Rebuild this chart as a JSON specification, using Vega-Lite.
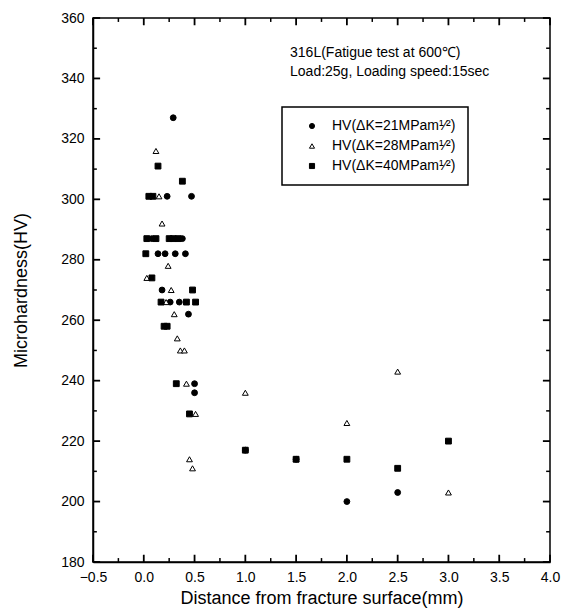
{
  "$schema": "https://vega.github.io/schema/vega-lite/v6.json",
  "autosize": "none",
  "padding": {"left": 93, "top": 18, "right": 11, "bottom": 52},
  "width": 457,
  "height": 544,
  "background": "white",
  "config": {
    "font": "Liberation Sans",
    "view": {"stroke": "black", "strokeWidth": 1.5},
    "axis": {
      "grid": false,
      "domainColor": "black",
      "domainWidth": 1.5,
      "labelFont": "Liberation Sans",
      "labelFontSize": 14,
      "labelColor": "black",
      "labelFlush": false,
      "labelOverlap": false,
      "titleFont": "Liberation Sans",
      "titleFontSize": 18,
      "titleFontWeight": "normal",
      "titleColor": "black"
    },
    "legend": {
      "strokeColor": "black",
      "strokeWidth": 1.5,
      "padding": 12,
      "symbolOffset": 11,
      "labelFont": "Liberation Sans",
      "labelFontSize": 14,
      "labelColor": "black",
      "labelOffset": 13,
      "symbolStrokeWidth": 1,
      "rowPadding": 6,
      "labelLimit": 300
    }
  },
  "datasets": {
    "pts": [
      {"x": 0.29, "y": 327, "s": "HV(ΔK=21MPam¹⁄²)"},
      {"x": 0.23, "y": 301, "s": "HV(ΔK=21MPam¹⁄²)"},
      {"x": 0.47, "y": 301, "s": "HV(ΔK=21MPam¹⁄²)"},
      {"x": 0.08, "y": 287, "s": "HV(ΔK=21MPam¹⁄²)"},
      {"x": 0.38, "y": 287, "s": "HV(ΔK=21MPam¹⁄²)"},
      {"x": 0.14, "y": 282, "s": "HV(ΔK=21MPam¹⁄²)"},
      {"x": 0.21, "y": 282, "s": "HV(ΔK=21MPam¹⁄²)"},
      {"x": 0.31, "y": 282, "s": "HV(ΔK=21MPam¹⁄²)"},
      {"x": 0.41, "y": 282, "s": "HV(ΔK=21MPam¹⁄²)"},
      {"x": 0.18, "y": 270, "s": "HV(ΔK=21MPam¹⁄²)"},
      {"x": 0.26, "y": 266, "s": "HV(ΔK=21MPam¹⁄²)"},
      {"x": 0.35, "y": 266, "s": "HV(ΔK=21MPam¹⁄²)"},
      {"x": 0.44, "y": 262, "s": "HV(ΔK=21MPam¹⁄²)"},
      {"x": 0.50, "y": 239, "s": "HV(ΔK=21MPam¹⁄²)"},
      {"x": 0.50, "y": 236, "s": "HV(ΔK=21MPam¹⁄²)"},
      {"x": 1.0, "y": 217, "s": "HV(ΔK=21MPam¹⁄²)"},
      {"x": 1.5, "y": 214, "s": "HV(ΔK=21MPam¹⁄²)"},
      {"x": 2.0, "y": 200, "s": "HV(ΔK=21MPam¹⁄²)"},
      {"x": 2.5, "y": 203, "s": "HV(ΔK=21MPam¹⁄²)"},
      {"x": 0.12, "y": 316, "s": "HV(ΔK=28MPam¹⁄²)"},
      {"x": 0.15, "y": 301, "s": "HV(ΔK=28MPam¹⁄²)"},
      {"x": 0.18, "y": 292, "s": "HV(ΔK=28MPam¹⁄²)"},
      {"x": 0.24, "y": 278, "s": "HV(ΔK=28MPam¹⁄²)"},
      {"x": 0.03, "y": 274, "s": "HV(ΔK=28MPam¹⁄²)"},
      {"x": 0.27, "y": 270, "s": "HV(ΔK=28MPam¹⁄²)"},
      {"x": 0.22, "y": 266, "s": "HV(ΔK=28MPam¹⁄²)"},
      {"x": 0.30, "y": 262, "s": "HV(ΔK=28MPam¹⁄²)"},
      {"x": 0.33, "y": 254, "s": "HV(ΔK=28MPam¹⁄²)"},
      {"x": 0.36, "y": 250, "s": "HV(ΔK=28MPam¹⁄²)"},
      {"x": 0.40, "y": 250, "s": "HV(ΔK=28MPam¹⁄²)"},
      {"x": 0.42, "y": 239, "s": "HV(ΔK=28MPam¹⁄²)"},
      {"x": 0.51, "y": 229, "s": "HV(ΔK=28MPam¹⁄²)"},
      {"x": 0.45, "y": 214, "s": "HV(ΔK=28MPam¹⁄²)"},
      {"x": 0.48, "y": 211, "s": "HV(ΔK=28MPam¹⁄²)"},
      {"x": 1.0, "y": 236, "s": "HV(ΔK=28MPam¹⁄²)"},
      {"x": 1.5, "y": 214, "s": "HV(ΔK=28MPam¹⁄²)"},
      {"x": 2.0, "y": 226, "s": "HV(ΔK=28MPam¹⁄²)"},
      {"x": 2.5, "y": 243, "s": "HV(ΔK=28MPam¹⁄²)"},
      {"x": 3.0, "y": 203, "s": "HV(ΔK=28MPam¹⁄²)"},
      {"x": 0.14, "y": 311, "s": "HV(ΔK=40MPam¹⁄²)"},
      {"x": 0.38, "y": 306, "s": "HV(ΔK=40MPam¹⁄²)"},
      {"x": 0.05, "y": 301, "s": "HV(ΔK=40MPam¹⁄²)"},
      {"x": 0.09, "y": 301, "s": "HV(ΔK=40MPam¹⁄²)"},
      {"x": 0.03, "y": 287, "s": "HV(ΔK=40MPam¹⁄²)"},
      {"x": 0.12, "y": 287, "s": "HV(ΔK=40MPam¹⁄²)"},
      {"x": 0.25, "y": 287, "s": "HV(ΔK=40MPam¹⁄²)"},
      {"x": 0.29, "y": 287, "s": "HV(ΔK=40MPam¹⁄²)"},
      {"x": 0.34, "y": 287, "s": "HV(ΔK=40MPam¹⁄²)"},
      {"x": 0.02, "y": 282, "s": "HV(ΔK=40MPam¹⁄²)"},
      {"x": 0.08, "y": 274, "s": "HV(ΔK=40MPam¹⁄²)"},
      {"x": 0.48, "y": 270, "s": "HV(ΔK=40MPam¹⁄²)"},
      {"x": 0.17, "y": 266, "s": "HV(ΔK=40MPam¹⁄²)"},
      {"x": 0.42, "y": 266, "s": "HV(ΔK=40MPam¹⁄²)"},
      {"x": 0.51, "y": 266, "s": "HV(ΔK=40MPam¹⁄²)"},
      {"x": 0.20, "y": 258, "s": "HV(ΔK=40MPam¹⁄²)"},
      {"x": 0.23, "y": 258, "s": "HV(ΔK=40MPam¹⁄²)"},
      {"x": 0.32, "y": 239, "s": "HV(ΔK=40MPam¹⁄²)"},
      {"x": 0.45, "y": 229, "s": "HV(ΔK=40MPam¹⁄²)"},
      {"x": 1.0, "y": 217, "s": "HV(ΔK=40MPam¹⁄²)"},
      {"x": 1.5, "y": 214, "s": "HV(ΔK=40MPam¹⁄²)"},
      {"x": 2.0, "y": 214, "s": "HV(ΔK=40MPam¹⁄²)"},
      {"x": 2.5, "y": 211, "s": "HV(ΔK=40MPam¹⁄²)"},
      {"x": 3.0, "y": 220, "s": "HV(ΔK=40MPam¹⁄²)"}
    ],
    "notes": [
      {"x": 1.44, "y": 348.3, "label": "316L(Fatigue test at 600℃)"},
      {"x": 1.44, "y": 342.2, "label": "Load:25g, Loading speed:15sec"}
    ],
    "xmaj": [{"v": -0.5}, {"v": 0}, {"v": 0.5}, {"v": 1}, {"v": 1.5}, {"v": 2}, {"v": 2.5}, {"v": 3}, {"v": 3.5}, {"v": 4}],
    "xmin": [{"v": -0.25}, {"v": 0.25}, {"v": 0.75}, {"v": 1.25}, {"v": 1.75}, {"v": 2.25}, {"v": 2.75}, {"v": 3.25}, {"v": 3.75}],
    "ymaj": [{"v": 180}, {"v": 200}, {"v": 220}, {"v": 240}, {"v": 260}, {"v": 280}, {"v": 300}, {"v": 320}, {"v": 340}, {"v": 360}],
    "ymin": [{"v": 190}, {"v": 210}, {"v": 230}, {"v": 250}, {"v": 270}, {"v": 290}, {"v": 310}, {"v": 330}, {"v": 350}]
  },
  "resolve": {"axis": {"x": "independent", "y": "independent"}},
  "layer": [
    {
      "data": {"name": "pts"},
      "mark": {"type": "point", "filled": true, "strokeWidth": 1, "size": 34, "opacity": 1},
      "encoding": {
        "x": {
          "field": "x", "type": "quantitative",
          "scale": {"domain": [-0.5, 4.0], "nice": false, "zero": false},
          "axis": {
            "orient": "bottom",
            "title": "Distance from fracture surface(mm)",
            "titlePadding": 5,
            "values": [-0.5,0,0.5,1,1.5,2,2.5,3,3.5,4],
            "format": ".1f",
            "ticks": false,
            "labelPadding": 8
          }
        },
        "y": {
          "field": "y", "type": "quantitative",
          "scale": {"domain": [180, 360], "nice": false, "zero": false},
          "axis": {
            "orient": "left",
            "title": "Microhardness(HV)",
            "titlePadding": 30,
            "values": [180,200,220,240,260,280,300,320,340,360],
            "ticks": false,
            "labelPadding": 9
          }
        },
        "shape": {
          "field": "s", "type": "nominal",
          "scale": {"domain": ["HV(ΔK=21MPam¹⁄²)", "HV(ΔK=28MPam¹⁄²)", "HV(ΔK=40MPam¹⁄²)"], "range": ["circle", "triangle-up", "square"]},
          "legend": {"title": null, "orient": "none", "legendX": 189, "legendY": 89, "symbolSize": 26}
        },
        "fill": {
          "field": "s", "type": "nominal",
          "scale": {"domain": ["HV(ΔK=21MPam¹⁄²)", "HV(ΔK=28MPam¹⁄²)", "HV(ΔK=40MPam¹⁄²)"], "range": ["black", "white", "black"]},
          "legend": {"title": null, "orient": "none", "legendX": 189, "legendY": 89, "symbolSize": 26}
        },
        "stroke": {
          "field": "s", "type": "nominal",
          "scale": {"domain": ["HV(ΔK=21MPam¹⁄²)", "HV(ΔK=28MPam¹⁄²)", "HV(ΔK=40MPam¹⁄²)"], "range": ["black", "black", "black"]},
          "legend": {"title": null, "orient": "none", "legendX": 189, "legendY": 89, "symbolSize": 26}
        }
      }
    },
    {
      "data": {"name": "notes"},
      "mark": {"type": "text", "align": "left", "baseline": "middle", "fontSize": 14, "font": "Liberation Sans", "color": "black"},
      "encoding": {
        "x": {"field": "x", "type": "quantitative", "axis": null},
        "y": {"field": "y", "type": "quantitative", "axis": null},
        "text": {"field": "label", "type": "nominal"}
      }
    },
    {
      "data": {"name": "xmaj"},
      "mark": {"type": "rule", "color": "black", "strokeWidth": 1.8},
      "encoding": {
        "x": {"field": "v", "type": "quantitative", "axis": null},
        "y": {"datum": 180, "type": "quantitative", "axis": null},
        "y2": {"datum": 182.4}
      }
    },
    {
      "data": {"name": "xmaj"},
      "mark": {"type": "rule", "color": "black", "strokeWidth": 1.8},
      "encoding": {
        "x": {"field": "v", "type": "quantitative", "axis": null},
        "y": {"datum": 360, "type": "quantitative", "axis": null},
        "y2": {"datum": 357.6}
      }
    },
    {
      "data": {"name": "xmin"},
      "mark": {"type": "rule", "color": "black", "strokeWidth": 1.5},
      "encoding": {
        "x": {"field": "v", "type": "quantitative", "axis": null},
        "y": {"datum": 180, "type": "quantitative", "axis": null},
        "y2": {"datum": 181.3}
      }
    },
    {
      "data": {"name": "xmin"},
      "mark": {"type": "rule", "color": "black", "strokeWidth": 1.5},
      "encoding": {
        "x": {"field": "v", "type": "quantitative", "axis": null},
        "y": {"datum": 360, "type": "quantitative", "axis": null},
        "y2": {"datum": 358.7}
      }
    },
    {
      "data": {"name": "ymaj"},
      "mark": {"type": "rule", "color": "black", "strokeWidth": 1.8},
      "encoding": {
        "y": {"field": "v", "type": "quantitative", "axis": null},
        "x": {"datum": -0.5, "type": "quantitative", "axis": null},
        "x2": {"datum": -0.43}
      }
    },
    {
      "data": {"name": "ymaj"},
      "mark": {"type": "rule", "color": "black", "strokeWidth": 1.8},
      "encoding": {
        "y": {"field": "v", "type": "quantitative", "axis": null},
        "x": {"datum": 4.0, "type": "quantitative", "axis": null},
        "x2": {"datum": 3.93}
      }
    },
    {
      "data": {"name": "ymin"},
      "mark": {"type": "rule", "color": "black", "strokeWidth": 1.5},
      "encoding": {
        "y": {"field": "v", "type": "quantitative", "axis": null},
        "x": {"datum": -0.5, "type": "quantitative", "axis": null},
        "x2": {"datum": -0.462}
      }
    },
    {
      "data": {"name": "ymin"},
      "mark": {"type": "rule", "color": "black", "strokeWidth": 1.5},
      "encoding": {
        "y": {"field": "v", "type": "quantitative", "axis": null},
        "x": {"datum": 4.0, "type": "quantitative", "axis": null},
        "x2": {"datum": 3.962}
      }
    }
  ]
}
